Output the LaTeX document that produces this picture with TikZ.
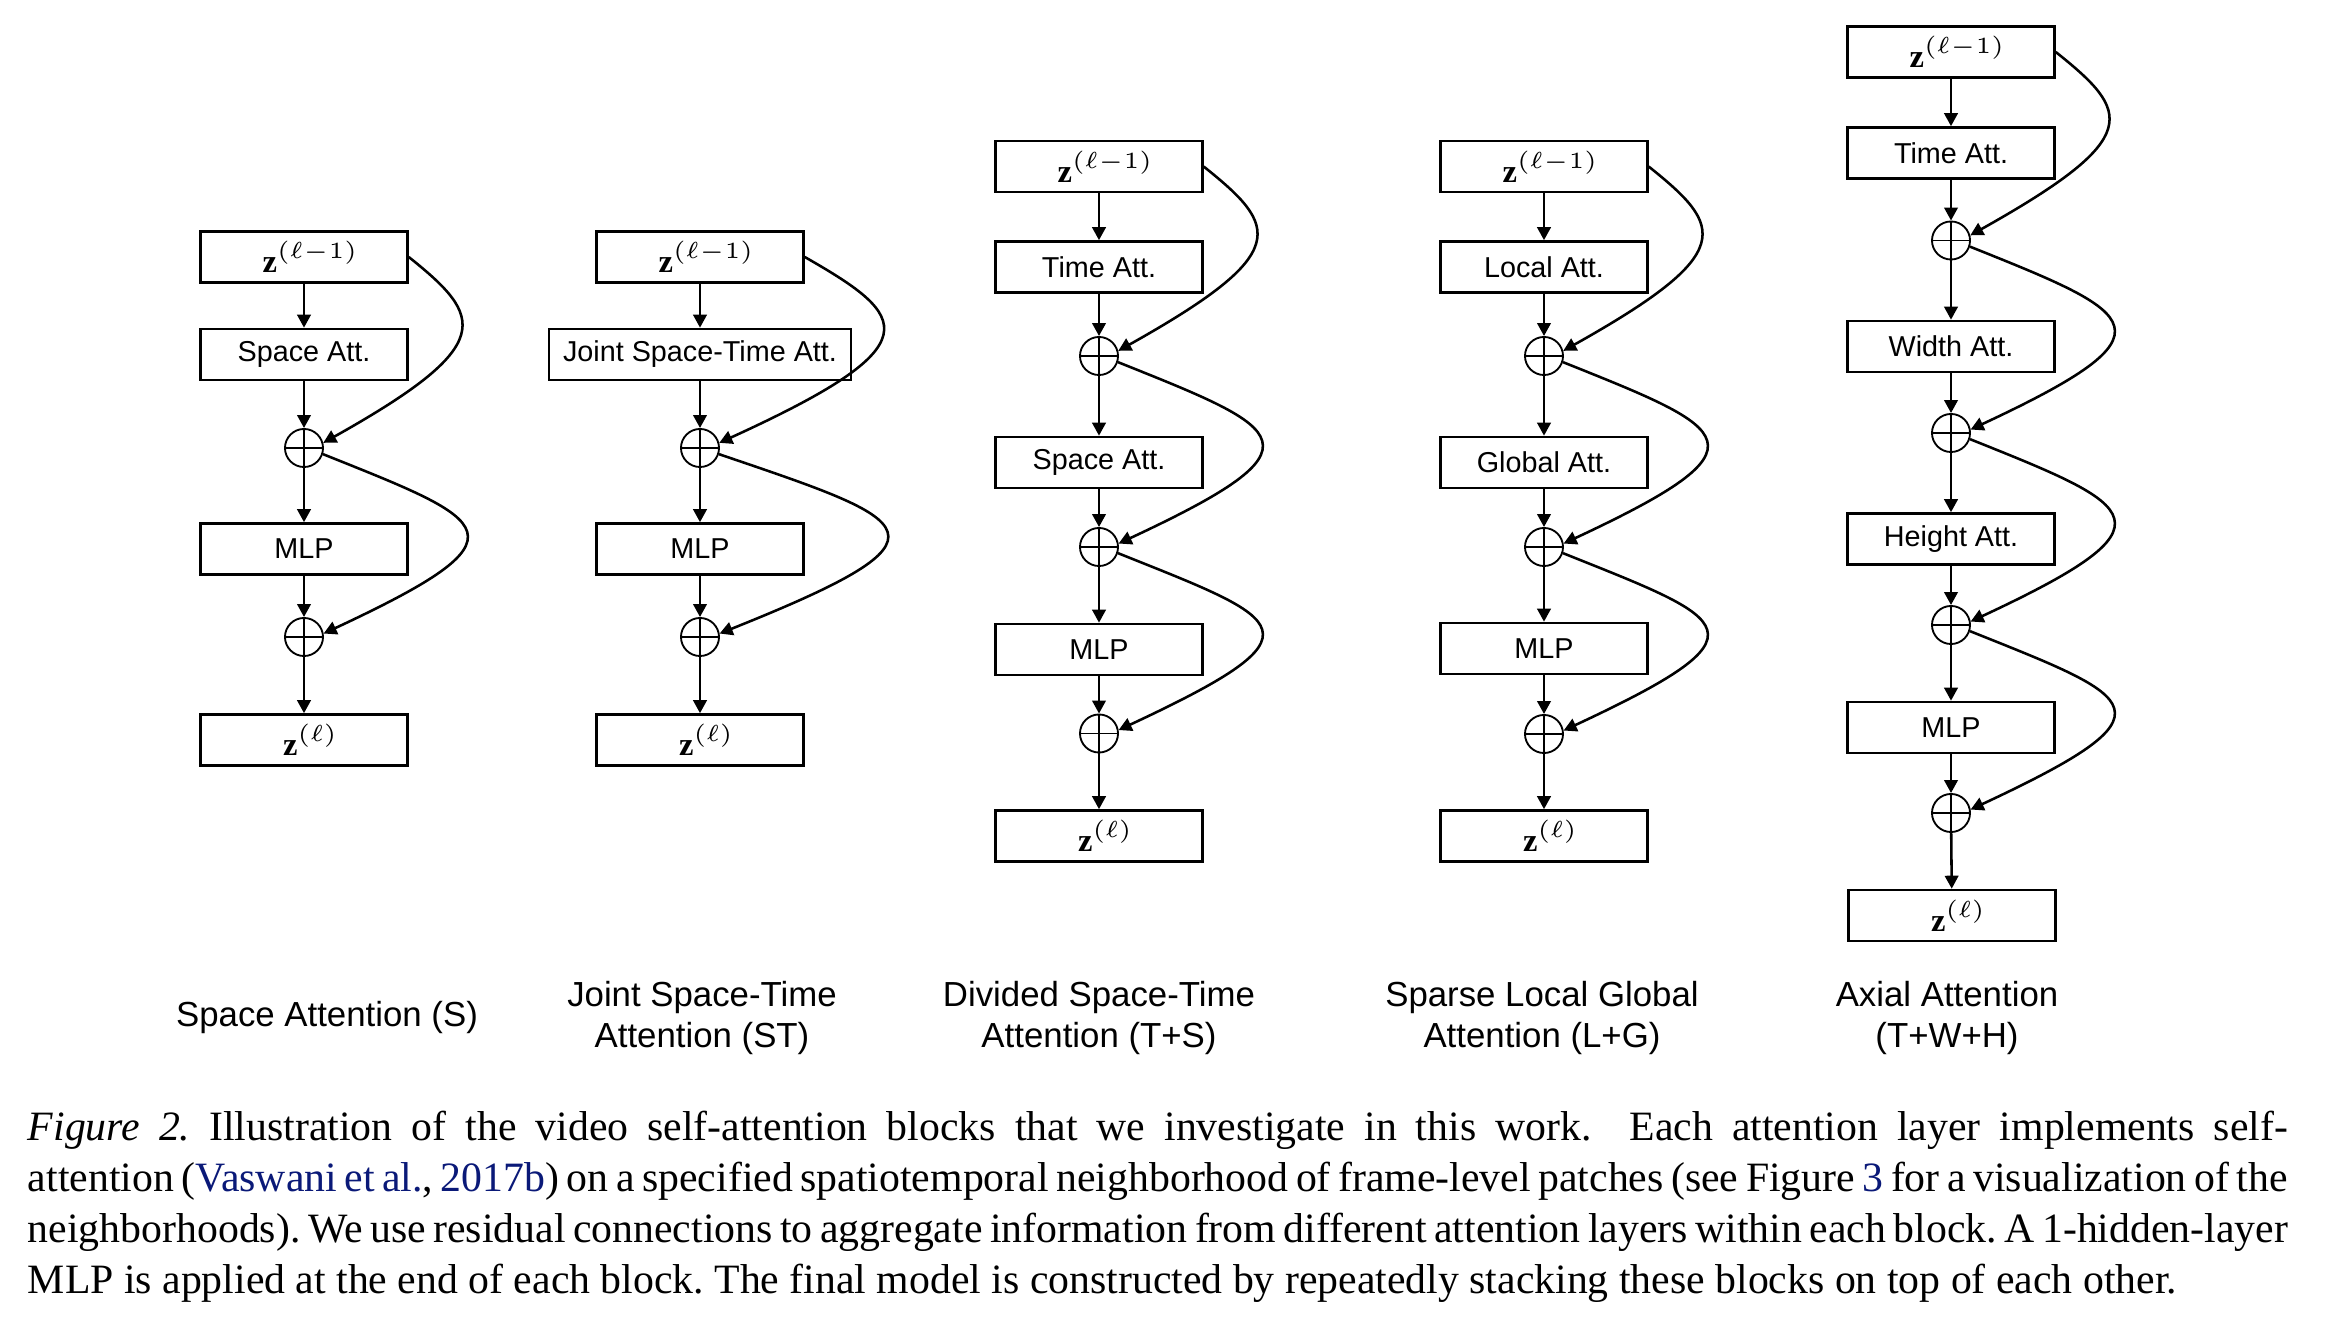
\documentclass[tikz,border=0pt]{standalone}
\usepackage{fontspec}
\setmainfont{Liberation Serif}
\newfontfamily\sansfnt{Liberation Sans}
\usetikzlibrary{arrows.meta}
\definecolor{linkblue}{RGB}{10,25,120}
\newcommand{\zin}{\kern3pt$\mathbf{z}^{(\ell-1)}$}
\newcommand{\zout}{\kern3pt$\mathbf{z}^{(\ell)}$}
\begin{document}
\begin{tikzpicture}[x=0.2155pt, y=-0.2155pt,
  blk/.style={draw, line width=0.55pt, minimum width=44.6pt, minimum height=11pt, inner sep=0pt, font=\sansfnt\fontsize{6.2}{7}\selectfont},
  wideblk/.style={blk, minimum width=65.1pt},
  zblk/.style={blk, font=\fontsize{7}{8}\selectfont},
  sumnode/.style={draw, circle, line width=0.4pt, minimum size=8.2pt, inner sep=0pt,
    path picture={\draw[line width=0.4pt] (path picture bounding box.north) -- (path picture bounding box.south)
      (path picture bounding box.west) -- (path picture bounding box.east);}},
  flow/.style={line width=0.55pt, -{Triangle[width=2.9pt,length=2.8pt]}},
  lbl/.style={align=center, inner sep=0pt, font=\sansfnt\fontsize{7.5}{8.7}\selectfont},
  captext/.style={anchor=north west, text width=487pt, inner sep=0pt, align=justify, font=\fontsize{9}{11}\selectfont}
]
\fill[white] (0,0) rectangle (2332,1332);
\useasboundingbox (0,0) rectangle (2332,1332);

% ---------- Column A: Space Attention ----------
\node[zblk] (a0) at (304,257) {\zin};
\node[blk] (a1) at (304,354.5) {Space Att.};
\node[sumnode] (as1) at (304,448) {};
\node[blk] (a2) at (304,549) {MLP};
\node[sumnode] (as2) at (304,637) {};
\node[zblk] (a3) at (304,740) {\zout};
\draw[flow] (a0) -- (a1);
\draw[flow] (a1) -- (as1);
\draw[flow] (as1) -- (a2);
\draw[flow] (a2) -- (as2);
\draw[flow] (as2) -- (a3);
\draw[flow] (a0.east) .. controls +(75,60) and +(175,-98) .. (as1.15);
\draw[flow] (as1.-18) .. controls +(170,68) and +(210,-98) .. (as2.10);
\node[lbl] (la) at (327,1018) {Space Attention (S)};

% ---------- Column B: Joint Space-Time ----------
\node[zblk] (b0) at (700,257) {\zin};
\node[wideblk] (b1) at (700,354.5) {Joint Space-Time Att.};
\node[sumnode] (bs1) at (700,448) {};
\node[blk] (b2) at (700,549) {MLP};
\node[sumnode] (bs2) at (700,637) {};
\node[zblk] (b3) at (700,740) {\zout};
\draw[flow] (b0) -- (b1);
\draw[flow] (b1) -- (bs1);
\draw[flow] (bs1) -- (b2);
\draw[flow] (b2) -- (bs2);
\draw[flow] (bs2) -- (b3);
\draw[flow] (b0.east) .. controls +(105,60) and +(215,-98) .. (bs1.15);
\draw[flow] (bs1.-18) .. controls +(200,68) and +(245,-98) .. (bs2.10);
\node[lbl] (lb) at (702,1018) {Joint Space-Time\\Attention (ST)};

% ---------- Column C: Divided Space-Time ----------
\node[zblk] (c0) at (1099,166.6) {\zin};
\node[blk] (c1) at (1099,267) {Time Att.};
\node[sumnode] (cs1) at (1099,356) {};
\node[blk] (c2) at (1099,462.5) {Space Att.};
\node[sumnode] (cs2) at (1099,547) {};
\node[blk] (c3) at (1099,649.5) {MLP};
\node[sumnode] (cs3) at (1099,733.5) {};
\node[zblk] (c4) at (1099,836) {\zout};
\draw[flow] (c0) -- (c1);
\draw[flow] (c1) -- (cs1);
\draw[flow] (cs1) -- (c2);
\draw[flow] (c2) -- (cs2);
\draw[flow] (cs2) -- (c3);
\draw[flow] (c3) -- (cs3);
\draw[flow] (cs3) -- (c4);
\draw[flow] (c0.east) .. controls +(75,60) and +(175,-98) .. (cs1.15);
\draw[flow] (cs1.-18) .. controls +(170,68) and +(210,-98) .. (cs2.10);
\draw[flow] (cs2.-18) .. controls +(170,68) and +(210,-98) .. (cs3.10);
\node[lbl] (lc) at (1099,1018) {Divided Space-Time\\Attention (T+S)};

% ---------- Column D: Sparse Local Global ----------
\node[zblk] (d0) at (1544,166.6) {\zin};
\node[blk] (d1) at (1544,267) {Local Att.};
\node[sumnode] (ds1) at (1544,356) {};
\node[blk] (d2) at (1544,462.5) {Global Att.};
\node[sumnode] (ds2) at (1544,547) {};
\node[blk] (d3) at (1544,648.5) {MLP};
\node[sumnode] (ds3) at (1544,734) {};
\node[zblk] (d4) at (1544,836) {\zout};
\draw[flow] (d0) -- (d1);
\draw[flow] (d1) -- (ds1);
\draw[flow] (ds1) -- (d2);
\draw[flow] (d2) -- (ds2);
\draw[flow] (ds2) -- (d3);
\draw[flow] (d3) -- (ds3);
\draw[flow] (ds3) -- (d4);
\draw[flow] (d0.east) .. controls +(75,60) and +(175,-98) .. (ds1.15);
\draw[flow] (ds1.-18) .. controls +(170,68) and +(210,-98) .. (ds2.10);
\draw[flow] (ds2.-18) .. controls +(170,68) and +(210,-98) .. (ds3.10);
\node[lbl] (ld) at (1542,1018) {Sparse Local Global\\Attention (L+G)};

% ---------- Column E: Axial Attention ----------
\node[zblk] (e0) at (1951,52) {\zin};
\node[blk] (e1) at (1951,153) {Time Att.};
\node[sumnode] (es1) at (1951,240.5) {};
\node[blk] (e2) at (1951,346.5) {Width Att.};
\node[sumnode] (es2) at (1951,433) {};
\node[blk] (e3) at (1951,539) {Height Att.};
\node[sumnode] (es3) at (1951,625) {};
\node[blk] (e4) at (1951,727.5) {MLP};
\node[sumnode] (es4) at (1951,813) {};
\node[zblk] (e5) at (1952,915.5) {\zout};
\draw[flow] (e0) -- (e1);
\draw[flow] (e1) -- (es1);
\draw[flow] (es1) -- (e2);
\draw[flow] (e2) -- (es2);
\draw[flow] (es2) -- (e3);
\draw[flow] (e3) -- (es3);
\draw[flow] (es3) -- (e4);
\draw[flow] (e4) -- (es4);
\draw[flow] (es4) -- (e5);
\draw[flow] (e0.east) .. controls +(75,60) and +(175,-98) .. (es1.15);
\draw[flow] (es1.-18) .. controls +(170,68) and +(210,-98) .. (es2.10);
\draw[flow] (es2.-18) .. controls +(170,68) and +(210,-98) .. (es3.10);
\draw[flow] (es3.-18) .. controls +(170,68) and +(210,-98) .. (es4.10);
\node[lbl] (le) at (1947,1018) {Axial Attention\\(T+W+H)};

% ---------- Caption ----------
\node[captext] (cap) at (27,1110) {\frenchspacing\spaceskip=0.25em plus 0.15em minus 0.12em\hyphenpenalty=10000\textit{Figure 2.} Illustration of the video self-attention blocks that we investigate in this work.\ \ Each attention layer implements self-\linebreak attention (\textcolor{linkblue}{Vaswani et al.}, \textcolor{linkblue}{2017b}) on a specified spatiotemporal neighborhood of frame-level patches (see Figure \textcolor{linkblue}{3} for a visualization of the\linebreak neighborhoods). We use residual connections to aggregate information from different attention layers within each block. A 1-hidden-layer\linebreak MLP is applied at the end of each block. The final model is constructed by repeatedly stacking these blocks on top of each other.};
\end{tikzpicture}
\end{document}
